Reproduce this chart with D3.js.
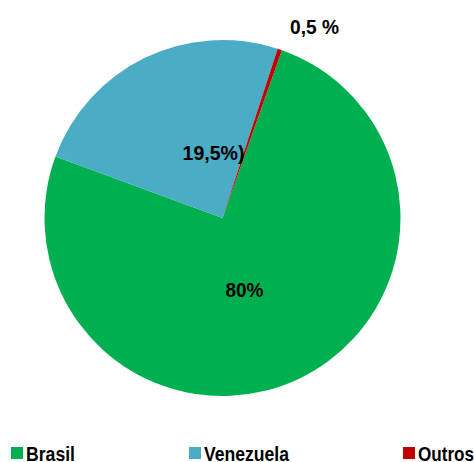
<!DOCTYPE html>
<meta charset='utf-8'>
<style>
    body { margin: 0; background: #fff; }
    text { font-family: 'Liberation Sans Narrow', 'Arial Narrow', 'Liberation Sans', sans-serif; font-weight: bold; }
</style>
<body>
    <script src='https://cdn.jsdelivr.net/npm/d3@7'></script>
    <script>
        var categories = ['Brasil', 'Venezuela', 'Outros'];
        var values = [75.2, 24.4, 0.4];
        var labels = ['80%', '19,5%)', '0,5 %'];
        var colors = ['#00B050', '#4BACC6', '#C00000'];

        var width = 474,
            height = 462;
        var cx = 222.5, cy = 218, r = 178;

        var svg = d3.select('body').append('svg')
            .attr('width', width)
            .attr('height', height);

        var start = 19.5 * Math.PI / 180;
        var pie = d3.pie().sort(null)
            .startAngle(start).endAngle(start + 2 * Math.PI);
        var arc = d3.arc().innerRadius(0).outerRadius(r);

        var g = svg.append('g').attr('transform', 'translate(' + cx + ',' + cy + ')');
        var arcs = pie(values);

        g.selectAll('path').data(arcs).enter().append('path')
            .attr('d', arc)
            .attr('fill', function(d, i) { return colors[i]; });

        // label spots and widths, hand-placed like the original (narrow font squeezed)
        var offsets = [[22, 79], [-9, -58], [92, -184]];
        var labelW = [38, 62, 49];
        g.selectAll('text.lbl').data(arcs).enter().append('text')
            .attr('class', 'lbl')
            .attr('x', function(d, i) { return offsets[i][0] - labelW[i] / 2; })
            .attr('y', function(d, i) { return offsets[i][1]; })
            .attr('font-size', 21)
            .attr('textLength', function(d, i) { return labelW[i]; })
            .attr('lengthAdjust', 'spacingAndGlyphs')
            .text(function(d, i) { return labels[i]; });

        // legend
        var legendW = [49, 85, 56];
        var legendX = d3.scaleOrdinal().domain(categories).range([11, 189, 403]);
        var leg = svg.selectAll('g.leg').data(categories).enter().append('g')
            .attr('class', 'leg')
            .attr('transform', function(d) { return 'translate(' + legendX(d) + ',447)'; });
        leg.append('rect').attr('width', 12).attr('height', 12)
            .attr('fill', function(d, i) { return colors[i]; });
        leg.append('text').attr('x', 15).attr('y', 14)
            .attr('font-size', 21)
            .attr('textLength', function(d, i) { return legendW[i]; })
            .attr('lengthAdjust', 'spacingAndGlyphs')
            .text(function(d) { return d; });
    </script>
</body>
